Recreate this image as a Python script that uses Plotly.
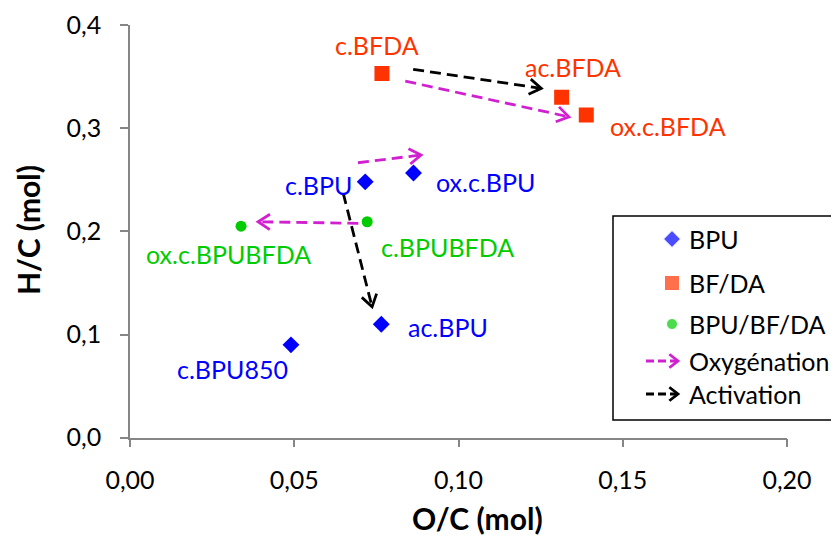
import math
import plotly.graph_objects as go

# ---------------- data ----------------
bpu_names = ["c.BPU", "ox.c.BPU", "ac.BPU", "c.BPU850"]
bpu_x = [0.0716, 0.0863, 0.0765, 0.0490]
bpu_y = [0.248, 0.2565, 0.110, 0.090]

bfda_names = ["c.BFDA", "ac.BFDA", "ox.c.BFDA"]
bfda_x = [0.0767, 0.1314, 0.1389]
bfda_y = [0.353, 0.330, 0.3127]

mix_names = ["c.BPUBFDA", "ox.c.BPUBFDA"]
mix_x = [0.0722, 0.0338]
mix_y = [0.2093, 0.2050]

# arrows: start -> end
oxy_x0 = [0.0694, 0.0695, 0.0838]
oxy_y0 = [0.2665, 0.2078, 0.3456]
oxy_x1 = [0.0886, 0.0390, 0.1336]
oxy_y1 = [0.2740, 0.2093, 0.3110]

act_x0 = [0.0649, 0.0862]
act_y0 = [0.2370, 0.3570]
act_x1 = [0.0737, 0.1252]
act_y1 = [0.1268, 0.3386]

x_tickvals = [0.00, 0.05, 0.10, 0.15, 0.20]
x_ticktext = ["0,00", "0,05", "0,10", "0,15", "0,20"]
y_tickvals = [0.0, 0.1, 0.2, 0.3, 0.4]
y_ticktext = ["0,0", "0,1", "0,2", "0,3", "0,4"]

legend_names = ["BPU", "BF/DA", "BPU/BF/DA", "Oxygénation", "Activation"]

# ---------------- style ----------------
PW, PH = 839, 536            # browser page size
OFF = 8                      # default body margin of the page
W, H = PW - OFF, PH - OFF    # figure size
PX0, PX1 = 130, 787          # plot area left/right (page px)
PY0, PY1 = 437.7, 25         # plot area bottom/top (page px)
XR = [0, 0.2]
YR = [0, 0.4]

BLUE = "#0000FF"
RED = "#FF3300"
GREEN = "#00CC00"
MAGENTA = "#D020D0"
BLACK = "#000000"
AXIS = "#868686"
FONT = "Lato"
LW = 2.8

# label offsets in pixels (dx right, dy up)
bpu_off = [(-47, -3), (72, -9), (67, -3), (-58, -24)]
bfda_off = [(-5, 28), (11, 30), (82, -11)]
mix_off = [(80, -25), (-13, -28)]


def to_px(x, y):
    sx = PX0 + (x - XR[0]) / (XR[1] - XR[0]) * (PX1 - PX0)
    sy = PY0 - (y - YR[0]) / (YR[1] - YR[0]) * (PY0 - PY1)
    return sx, sy


def from_px(sx, sy):
    x = XR[0] + (sx - PX0) / (PX1 - PX0) * (XR[1] - XR[0])
    y = YR[0] + (PY0 - sy) / (PY0 - PY1) * (YR[1] - YR[0])
    return x, y


def chevron_px(tx, ty, hx, hy, L=14, ang=33):
    dx, dy = hx - tx, hy - ty
    n = math.hypot(dx, dy)
    ux, uy = dx / n, dy / n
    pts = []
    for s in (1, -1):
        a = math.radians(ang) * s
        rx = ux * math.cos(a) - uy * math.sin(a)
        ry = ux * math.sin(a) + uy * math.cos(a)
        pts.append((hx - L * rx, hy - L * ry))
    return [pts[0][0], hx, pts[1][0]], [pts[0][1], hy, pts[1][1]]


fig = go.Figure()

DASH = "11px,6px"


def add_arrows(x0s, y0s, x1s, y1s, color):
    for x0, y0, x1, y1 in zip(x0s, y0s, x1s, y1s):
        fig.add_trace(go.Scatter(x=[x0, x1], y=[y0, y1], mode="lines",
                                 line=dict(color=color, width=LW, dash=DASH),
                                 showlegend=False, hoverinfo="skip",
                                 xaxis="x", yaxis="y"))
        t = to_px(x0, y0)
        h = to_px(x1, y1)
        cx, cy = chevron_px(t[0], t[1], h[0], h[1])
        dxs, dys = zip(*[from_px(a, b) for a, b in zip(cx, cy)])
        fig.add_trace(go.Scatter(x=list(dxs), y=list(dys), mode="lines",
                                 line=dict(color=color, width=LW),
                                 showlegend=False, hoverinfo="skip",
                                 xaxis="x", yaxis="y"))


add_arrows(oxy_x0, oxy_y0, oxy_x1, oxy_y1, MAGENTA)
add_arrows(act_x0, act_y0, act_x1, act_y1, BLACK)

fig.add_trace(go.Scatter(x=bpu_x, y=bpu_y, mode="markers", name=legend_names[0],
                         marker=dict(symbol="diamond", size=13, color=BLUE),
                         showlegend=False, xaxis="x", yaxis="y"))
fig.add_trace(go.Scatter(x=bfda_x, y=bfda_y, mode="markers", name=legend_names[1],
                         marker=dict(symbol="square", size=15, color=RED),
                         showlegend=False, xaxis="x", yaxis="y"))
fig.add_trace(go.Scatter(x=mix_x, y=mix_y, mode="markers", name=legend_names[2],
                         marker=dict(symbol="circle", size=11, color=GREEN),
                         showlegend=False, xaxis="x", yaxis="y"))

annotations = []
for names, xs, ys, offs, col in [(bpu_names, bpu_x, bpu_y, bpu_off, BLUE),
                                 (bfda_names, bfda_x, bfda_y, bfda_off, RED),
                                 (mix_names, mix_x, mix_y, mix_off, GREEN)]:
    for n, x, y, (dx, dy) in zip(names, xs, ys, offs):
        annotations.append(dict(x=x, y=y, xref="x", yref="y", text=n, showarrow=False,
                                xshift=dx, yshift=dy, xanchor="center", yanchor="middle",
                                font=dict(family=FONT, size=25, color=col)))

# ---------------- legend (drawn in pixel overlay axes, page coords) ----------------
LEG_SYM_X = 672
LEG_TXT_X = 687
LEG_Y = [239, 283, 324, 361, 394]
fig.add_trace(go.Scatter(x=[LEG_SYM_X] * 3, y=LEG_Y[:3], mode="markers",
                         marker=dict(symbol=["diamond", "square", "circle"],
                                     size=[13, 15, 11], color=[BLUE, RED, GREEN]),
                         showlegend=False, hoverinfo="skip", xaxis="x2", yaxis="y2"))
for yy, col in [(LEG_Y[3], MAGENTA), (LEG_Y[4], BLACK)]:
    fig.add_trace(go.Scatter(x=[646, 677], y=[yy, yy], mode="lines",
                             line=dict(color=col, width=LW, dash="8px,4px"),
                             showlegend=False, hoverinfo="skip", xaxis="x2", yaxis="y2"))
    cx, cy = chevron_px(646, yy, 678, yy, L=11, ang=38)
    fig.add_trace(go.Scatter(x=cx, y=cy, mode="lines", line=dict(color=col, width=LW),
                             showlegend=False, hoverinfo="skip", xaxis="x2", yaxis="y2"))
for name, yy in zip(legend_names, LEG_Y):
    annotations.append(dict(x=LEG_TXT_X, y=yy, xref="x2", yref="y2", text=name,
                            showarrow=False, xanchor="left", yanchor="middle",
                            font=dict(family=FONT, size=25, color="black")))

# axis titles
annotations.append(dict(x=477, y=518, xref="x2", yref="y2", text="<b>O/C (mol)</b>",
                        showarrow=False, font=dict(family=FONT, size=30, color="black")))
annotations.append(dict(x=28, y=230, xref="x2", yref="y2", text="<b>H/C (mol)</b>",
                        showarrow=False, textangle=-90,
                        font=dict(family=FONT, size=30, color="black")))

LEG_BOX = dict(x0=613, y0=216, x1=850, y1=420)
shapes = [
    dict(type="rect", xref="x2", yref="y2", **LEG_BOX,
         line=dict(width=0), fillcolor="white", layer="below"),
    dict(type="path", xref="x2", yref="y2",
         path=(f"M {LEG_BOX['x1']},{LEG_BOX['y0']} L {LEG_BOX['x0']},{LEG_BOX['y0']} "
               f"L {LEG_BOX['x0']},{LEG_BOX['y1']} L {LEG_BOX['x1']},{LEG_BOX['y1']}"),
         line=dict(color="black", width=1.5), layer="below"),
]

fig.update_layout(
    width=W, height=H, autosize=False,
    margin=dict(l=0, r=0, t=0, b=0, pad=0),
    paper_bgcolor="white", plot_bgcolor="rgba(0,0,0,0)",
    font=dict(family=FONT, color="black"),
    showlegend=False,
    annotations=annotations, shapes=shapes,
    xaxis=dict(domain=[(PX0 - OFF) / W, (PX1 - OFF) / W], range=XR, anchor="y",
               showline=True, linecolor=AXIS, linewidth=1.5, mirror=False,
               ticks="outside", ticklen=8, tickwidth=1.5, tickcolor=AXIS,
               tickvals=x_tickvals, ticktext=x_ticktext, ticklabelstandoff=12,
               tickfont=dict(family=FONT, size=25, color="black"),
               showgrid=False, zeroline=False, automargin=False, fixedrange=True),
    yaxis=dict(domain=[(OFF + H - PY0) / H, (OFF + H - PY1) / H], range=YR, anchor="x",
               showline=True, linecolor=AXIS, linewidth=1.5, mirror=False,
               ticks="outside", ticklen=8, tickwidth=1.5, tickcolor=AXIS,
               tickvals=y_tickvals, ticktext=y_ticktext, ticklabelstandoff=14,
               tickfont=dict(family=FONT, size=25, color="black"),
               showgrid=False, zeroline=False, automargin=False, fixedrange=True),
    xaxis2=dict(domain=[0, 1], range=[OFF, OFF + W], anchor="y2", visible=False,
                fixedrange=True, showgrid=False, zeroline=False),
    yaxis2=dict(domain=[0, 1], range=[OFF + H, OFF], anchor="x2", visible=False,
                fixedrange=True, showgrid=False, zeroline=False),
)

fig.write_html("out.html")
